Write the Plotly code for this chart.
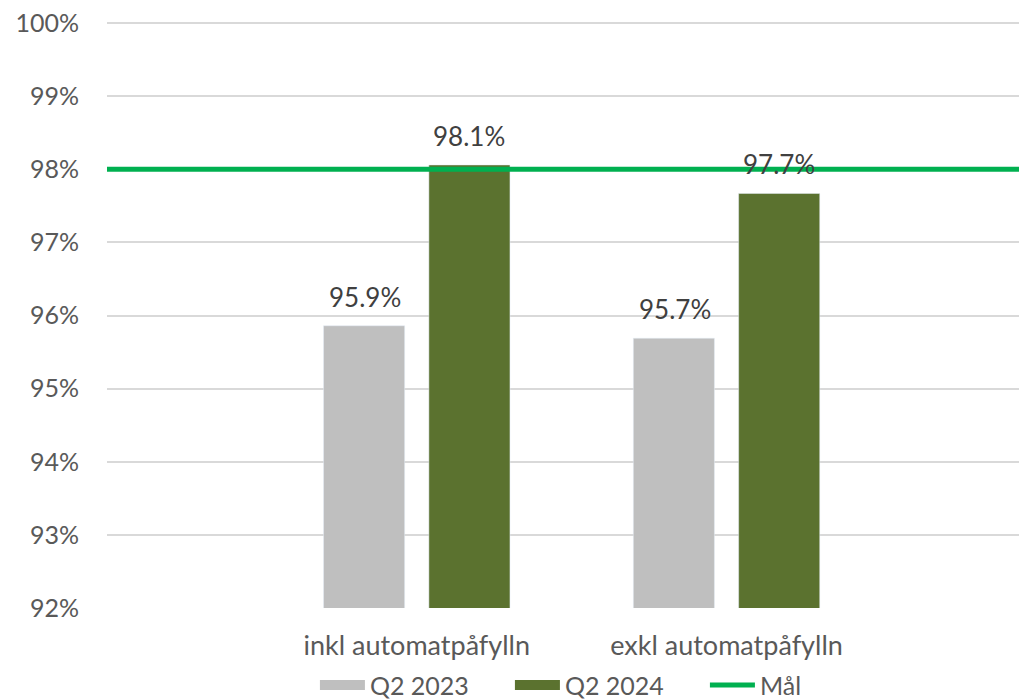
import plotly.graph_objects as go

categories = ["inkl automatpåfylln", "exkl automatpåfylln"]
q2_2023 = [95.86, 95.69]
q2_2024 = [98.06, 97.67]
target = 98.0
y_ticks = [92, 93, 94, 95, 96, 97, 98, 99, 100]
y_tick_labels = [f"{v}%" for v in y_ticks]

FONT = "Lato"
FS = 25
GRAY = "#BFBFBF"
GREEN = "#5B722F"
GROUP_SHIFT = 52  # px from category centre to each bar centre

fig = go.Figure()
fig.add_trace(go.Bar(
    name="Q2 2023", x=categories, y=q2_2023, marker_color=GRAY, showlegend=False,
))
fig.add_trace(go.Bar(
    name="Q2 2024", x=categories, y=q2_2024, marker_color=GREEN, showlegend=False,
))
fig.add_trace(go.Scatter(
    name="Mål", x=[0, 1], y=[target, target], mode="lines",
    line=dict(color="#00B050", width=5), xaxis="x2", legendrank=3,
))
# legend-only entries with wide rectangular swatches
fig.add_trace(go.Scatter(name="Q2 2023", x=[None], y=[None], mode="lines",
                         line=dict(color=GRAY, width=20), xaxis="x2", legendrank=1))
fig.add_trace(go.Scatter(name="Q2 2024", x=[None], y=[None], mode="lines",
                         line=dict(color=GREEN, width=20), xaxis="x2", legendrank=2))

# value labels above bars
for series, shift in ((q2_2023, -GROUP_SHIFT), (q2_2024, GROUP_SHIFT)):
    for cat, val in zip(categories, series):
        fig.add_annotation(x=cat, y=val, xref="x", yref="y", text=f"{val:.1f}%",
                           showarrow=False, xshift=shift, yshift=29, yanchor="middle",
                           font=dict(size=26, color="#404040", family=FONT))

fig.update_layout(
    width=1019, height=692,
    margin=dict(l=99, r=0, t=14, b=92, autoexpand=False),
    paper_bgcolor="white", plot_bgcolor="white",
    font=dict(family=FONT, color="#595959", size=FS),
    barmode="group", bargap=0.32, bargroupgap=0.23,
    showlegend=True,
    legend=dict(orientation="h", x=0.226, xanchor="left", y=-0.132, yanchor="middle",
                font=dict(size=FS, color="#595959"), traceorder="normal",
                itemwidth=45, tracegroupgap=0, entrywidth=135, entrywidthmode="pixels"),
    xaxis=dict(type="category", range=[-1.0, 1.97], showgrid=False,
               showline=False, ticks="outside", ticklen=14, tickcolor="rgba(0,0,0,0)",
               tickfont=dict(size=27, color="#595959")),
    xaxis2=dict(overlaying="x", range=[0, 1], visible=False),
    yaxis=dict(range=[92, 100.015], tickvals=y_ticks, ticktext=y_tick_labels,
               showgrid=True, gridcolor="#D9D9D9", gridwidth=1.5,
               zeroline=False, showline=False, ticks="outside", ticklen=22,
               tickcolor="rgba(0,0,0,0)", ticklabeloverflow="allow",
               tickfont=dict(size=FS, color="#595959")),
)

fig.write_html("out.html")
